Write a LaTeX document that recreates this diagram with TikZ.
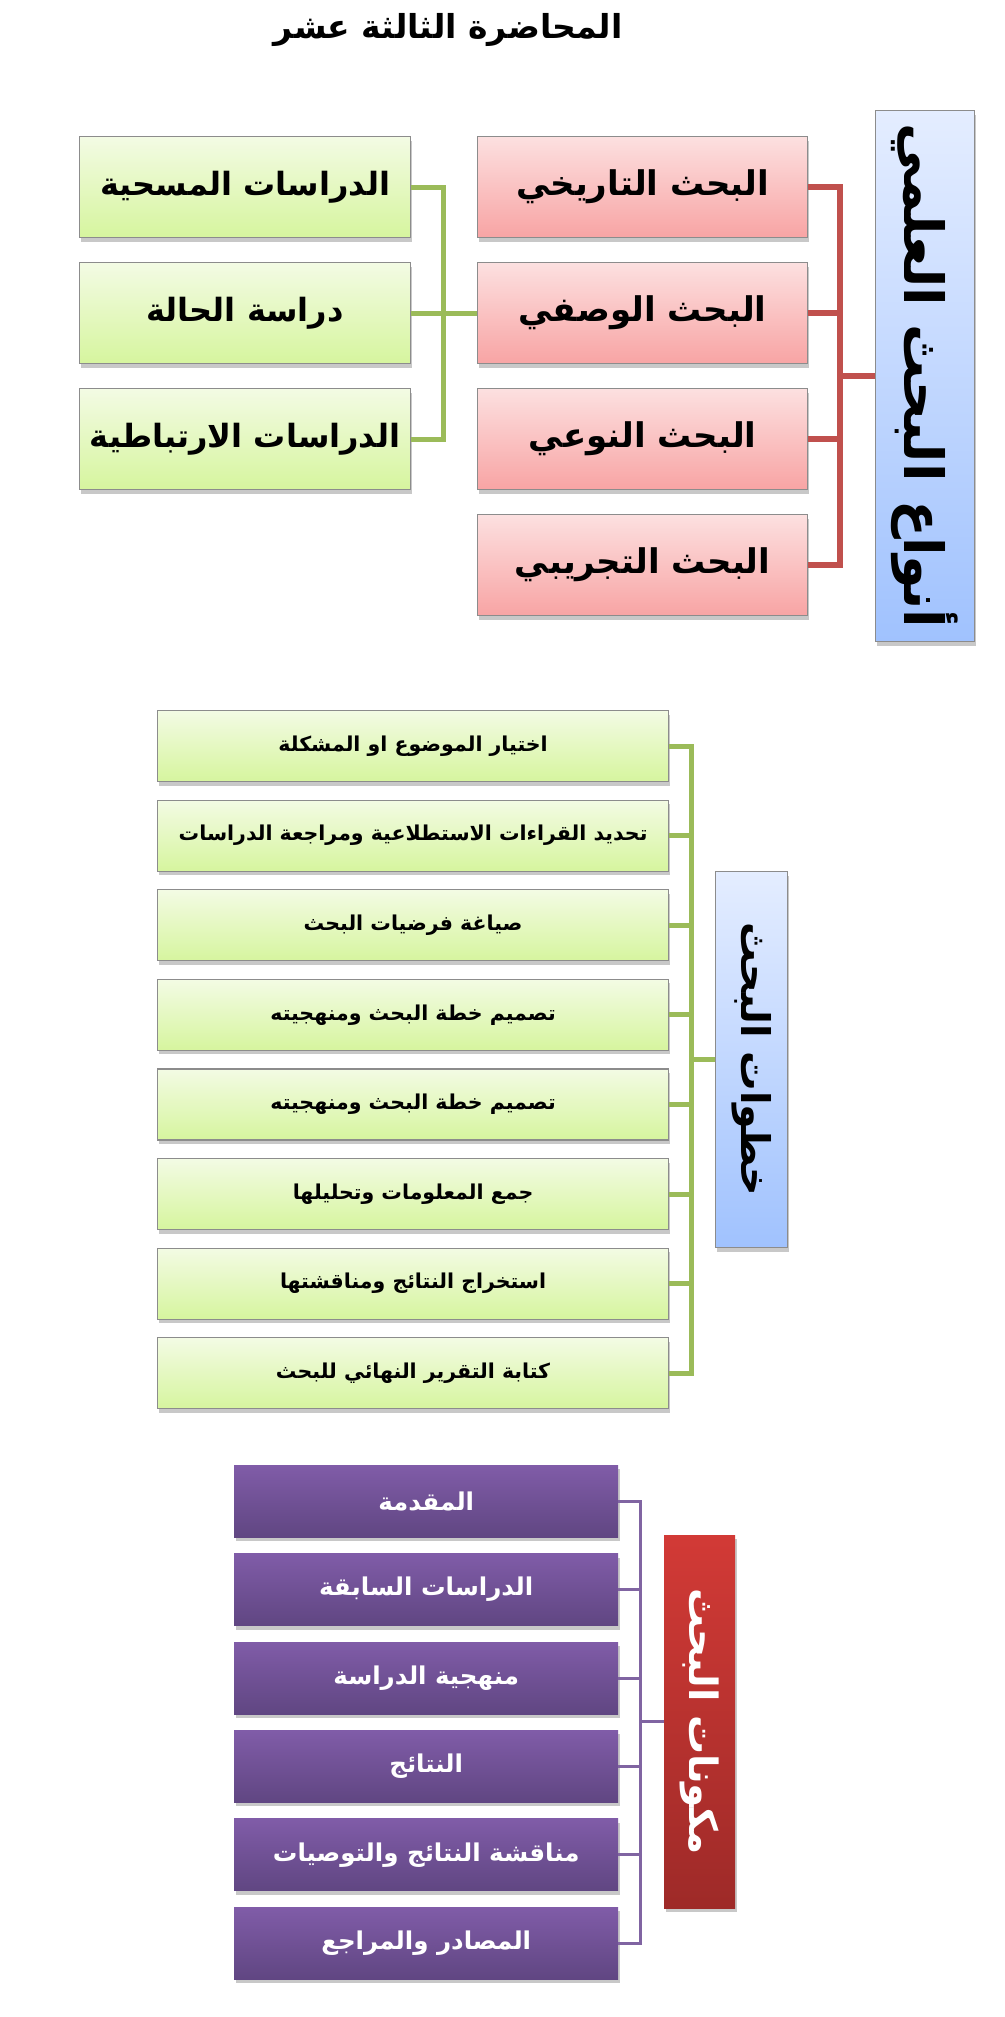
\documentclass[tikz,border=0pt]{standalone}
\usepackage{fontspec}
\usepackage{graphicx}
\usetikzlibrary{shadows}
\TeXXeTstate=1
\newfontfamily\arfont[Script=Arabic]{DejaVu Sans}
\newcommand\AR[2]{{\fontsize{#1}{#1}\arfont\bfseries #2}}
\definecolor{pinkT}{RGB}{252,224,224}
\definecolor{pinkB}{RGB}{248,164,164}
\definecolor{grnT}{RGB}{243,251,228}
\definecolor{grnB}{RGB}{214,245,158}
\definecolor{bluT}{RGB}{228,237,255}
\definecolor{bluB}{RGB}{160,194,254}
\definecolor{purT}{RGB}{128,92,168}
\definecolor{purB}{RGB}{96,70,130}
\definecolor{redT}{RGB}{210,58,54}
\definecolor{redB}{RGB}{158,42,40}
\definecolor{bord}{RGB}{140,140,140}
\definecolor{lnRed}{RGB}{192,80,77}
\definecolor{lnGrn}{RGB}{155,187,89}
\definecolor{lnPur}{RGB}{128,100,162}
\tikzset{
  basebox/.style={rectangle, inner sep=0pt, anchor=north west,
    drop shadow={shadow xshift=1.5pt, shadow yshift=-4pt, opacity=0.3, fill=black!70}},
  pinkbox/.style={basebox, draw=bord, line width=1.2pt, top color=pinkT, bottom color=pinkB,
    minimum width=330, minimum height=101},
  grnbox/.style={basebox, draw=bord, line width=1.2pt, top color=grnT, bottom color=grnB,
    minimum width=331, minimum height=101},
  stepbox/.style={basebox, draw=bord, line width=1.2pt, top color=grnT, bottom color=grnB,
    minimum width=511, minimum height=71},
  purbox/.style={basebox, top color=purT, bottom color=purB, text=white,
    minimum width=384, minimum height=72},
  bluhdr/.style={basebox, draw=bord, line width=1.2pt, top color=bluT, bottom color=bluB},
  redhdr/.style={basebox, top color=redT, bottom color=redB, text=white},
  redline/.style={draw=lnRed, line width=6pt},
  grnline/.style={draw=lnGrn, line width=5pt},
  purline/.style={draw=lnPur, line width=3pt},
}
\begin{document}
\begin{tikzpicture}[x=1pt,y=-1pt]
\useasboundingbox[fill=white] (0,0) rectangle (1004,2017);
% title
\node (title) at (448,30) {\AR{33}{\beginR المحاضرة الثالثة عشر\endR}};
% ---------- section 1 ----------
\node[bluhdr, minimum width=99, minimum height=531] (h1) at (875,110)
  {\rotatebox{-90}{\AR{54}{\beginR أنواع البحث العلمي\endR}}};
\node[pinkbox] (p1) at (477,136) {\AR{34}{\beginR البحث التاريخي\endR}};
\node[pinkbox] (p2) at (477,262) {\AR{34}{\beginR البحث الوصفي\endR}};
\node[pinkbox] (p3) at (477,388) {\AR{34}{\beginR البحث النوعي\endR}};
\node[pinkbox] (p4) at (477,514) {\AR{34}{\beginR البحث التجريبي\endR}};
\node[grnbox] (g1) at (79,136) {\AR{32}{\beginR الدراسات المسحية\endR}};
\node[grnbox] (g2) at (79,262) {\AR{32}{\beginR دراسة الحالة\endR}};
\node[grnbox] (g3) at (79,388) {\AR{32}{\beginR الدراسات الارتباطية\endR}};
\coordinate (rb) at (840,0);
\coordinate (gb) at (443,0);
\draw[redline] (p1.east) -- (p1.east -| rb) -- (p4.east -| rb) -- (p4.east);
\draw[redline] (p2.east) -- (p2.east -| rb);
\draw[redline] (p3.east) -- (p3.east -| rb);
\draw[redline] (h1.west) -- (h1.west -| rb);
\draw[grnline] (g1.east) -- (g1.east -| gb) -- (g3.east -| gb) -- (g3.east);
\draw[grnline] (g2.east) -- (p2.west);
% ---------- section 2 ----------
\node[bluhdr, minimum width=72, minimum height=376] (h2) at (715,871)
  {\rotatebox{-90}{\AR{39.5}{\beginR خطوات البحث\endR}}};
\node[stepbox] (s1) at (157,710.0) {\AR{20.5}{\beginR اختيار الموضوع او المشكلة\endR}};
\node[stepbox] (s2) at (157,799.6) {\AR{20.5}{\beginR تحديد القراءات الاستطلاعية ومراجعة الدراسات\endR}};
\node[stepbox] (s3) at (157,889.2) {\AR{20.5}{\beginR صياغة فرضيات البحث\endR}};
\node[stepbox] (s4) at (157,978.8) {\AR{20.5}{\beginR تصميم خطة البحث ومنهجيته\endR}};
\node[stepbox] (s5) at (157,1068.4) {\AR{20.5}{\beginR تصميم خطة البحث ومنهجيته\endR}};
\node[stepbox] (s6) at (157,1158.0) {\AR{20.5}{\beginR جمع المعلومات وتحليلها\endR}};
\node[stepbox] (s7) at (157,1247.6) {\AR{20.5}{\beginR استخراج النتائج ومناقشتها\endR}};
\node[stepbox] (s8) at (157,1337.2) {\AR{20.5}{\beginR كتابة التقرير النهائي للبحث\endR}};
\coordinate (sb) at (691,0);
\draw[grnline] (s1.east) -- (s1.east -| sb) -- (s8.east -| sb) -- (s8.east);
\foreach \i in {2,...,7} \draw[grnline] (s\i.east) -- (s\i.east -| sb);
\draw[grnline] (h2.west) -- (h2.west -| sb);
% ---------- section 3 ----------
\node[redhdr, minimum width=71, minimum height=373] (h3) at (664,1535)
  {\rotatebox{-90}{\AR{39}{\beginR مكونات البحث\endR}}};
\node[purbox] (c1) at (234,1465.0) {\AR{24.5}{\beginR المقدمة\endR}};
\node[purbox] (c2) at (234,1553.4) {\AR{24.5}{\beginR الدراسات السابقة\endR}};
\node[purbox] (c3) at (234,1641.8) {\AR{24.5}{\beginR منهجية الدراسة\endR}};
\node[purbox] (c4) at (234,1730.2) {\AR{24.5}{\beginR النتائج\endR}};
\node[purbox] (c5) at (234,1818.6) {\AR{24.5}{\beginR مناقشة النتائج والتوصيات\endR}};
\node[purbox] (c6) at (234,1907.0) {\AR{24.5}{\beginR المصادر والمراجع\endR}};
\coordinate (cb) at (640,0);
\draw[purline] (c1.east) -- (c1.east -| cb) -- (c6.east -| cb) -- (c6.east);
\foreach \i in {2,...,5} \draw[purline] (c\i.east) -- (c\i.east -| cb);
\draw[purline] (h3.west) -- (h3.west -| cb);
\end{tikzpicture}
\end{document}
